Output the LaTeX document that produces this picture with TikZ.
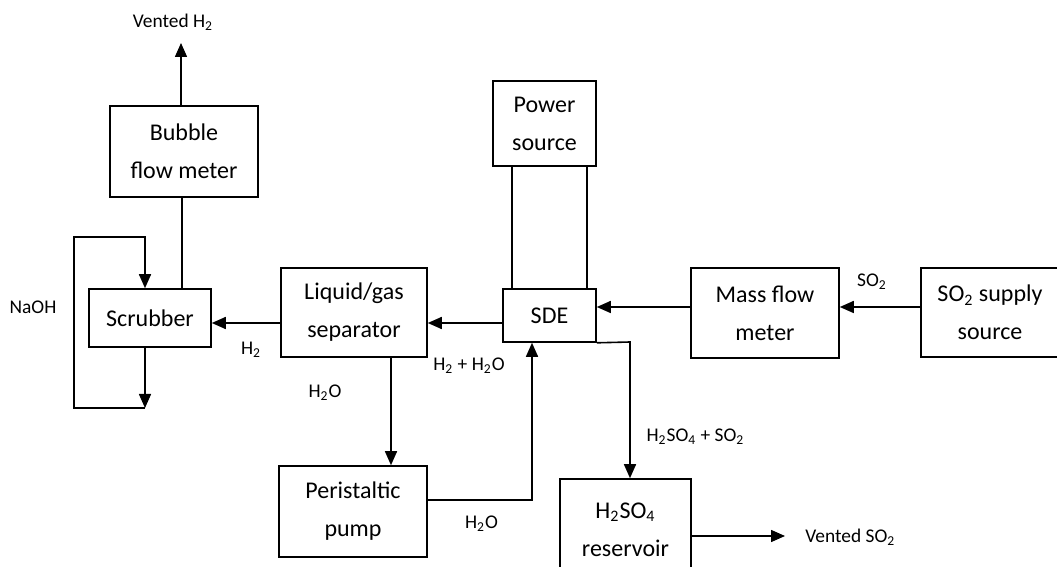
\documentclass[tikz,border=0pt]{standalone}
\usepackage{fontspec}
\setmainfont{Carlito}
\usetikzlibrary{arrows.meta}
\begin{document}
\begin{tikzpicture}[x=0.5pt,y=-0.5pt,
  box/.style={draw, line width=0.8pt, rectangle, align=center, inner sep=0pt,
    font=\fontsize{12}{19}\selectfont},
  lbl/.style={font=\fontsize{9.7}{11}\selectfont, inner sep=0pt},
  conn/.style={line width=0.8pt},
  arr/.style={conn, -{Triangle[length=7pt,width=6pt]}}]
\useasboundingbox (0,0) rectangle (1057,567);
\clip (0,0) rectangle (1057,567);
% boxes
\node[box, minimum width=74pt, minimum height=45.5pt] (bfm) at (184,151.5) {Bubble\\flow meter};
\node[box, minimum width=61pt, minimum height=29pt] (scrub) at (150,318) {Scrubber};
\node[box, minimum width=73pt, minimum height=44.5pt] (sep) at (354,312.5) {Liquid/gas\\separator};
\node[box, minimum width=46.5pt, minimum height=26.5pt] (sde) at (549.5,315.5) {SDE};
\node[box, minimum width=51.5pt, minimum height=42.5pt] (power) at (544.5,123.5) {Power\\source};
\node[box, minimum width=74pt, minimum height=45pt] (mfm) at (765,313) {Mass flow\\meter};
\node[box, minimum width=69pt, minimum height=44.5pt] (supply) at (990,312.5) {SO\textsubscript{2} supply\\source};
\node[box, minimum width=74pt, minimum height=45.5pt] (pump) at (353,511.5) {Peristaltic\\pump};
\node[box, minimum width=65.5pt, minimum height=50.5pt] (res) at (625.5,529.5) {H\textsubscript{2}SO\textsubscript{4}\\reservoir};
% labels
\node[lbl] (lvh2) at (173,22) {Vented H\textsubscript{2}};
\node[lbl] (lnaoh) at (33,307) {NaOH};
\node[lbl] (lh2) at (251,350) {H\textsubscript{2}};
\node[lbl] (lh2oa) at (325,393) {H\textsubscript{2}O};
\node[lbl] (lmix) at (469,366) {H\textsubscript{2} + H\textsubscript{2}O};
\node[lbl] (lso2) at (872,282) {SO\textsubscript{2}};
\node[lbl] (lh2ob) at (481.5,524) {H\textsubscript{2}O};
\node[lbl] (lacid) at (695.5,437) {H\textsubscript{2}SO\textsubscript{4} + SO\textsubscript{2}};
\node[lbl, anchor=west] (lvso2) at (805,537) {Vented SO\textsubscript{2}};
% free ends
\coordinate (ventH) at (181,43);
\coordinate (ventS) at (785,536);
\coordinate (loopB) at (145,408);
% connectors
\draw[arr] (bfm.north -| ventH) -- (ventH);
\draw[conn] (scrub.north -| 182,0) -- (bfm.south -| 182,0);
\draw[arr] (scrub.south -| loopB) -- (loopB);
\draw[arr] (loopB) -- (74,408) -- (74,237) -- (145,237) -- (scrub.north -| loopB);
\draw[arr] (sep.west |- 0,323) -- (scrub.east |- 0,323);
\draw[arr] (sde.west |- 0,323) -- (sep.east |- 0,323);
\draw[arr] (mfm.west |- 0,307) -- (sde.east |- 0,307);
\draw[arr] (supply.west |- 0,307) -- (mfm.east |- 0,307);
\draw[conn] (power.south -| 512,0) -- (sde.north -| 512,0);
\draw[conn] (power.south -| 587,0) -- (sde.north -| 587,0);
\draw[arr] (sep.south -| 391,0) -- (pump.north -| 391,0);
\draw[arr] (pump.east |- 0,500) -- (532,500) -- (sde.south -| 532,0);
\draw[arr] (sde.south east) -- (630,342) -- (res.north -| 630,0);
\draw[arr] (res.east |- ventS) -- (ventS);
\end{tikzpicture}
\end{document}
